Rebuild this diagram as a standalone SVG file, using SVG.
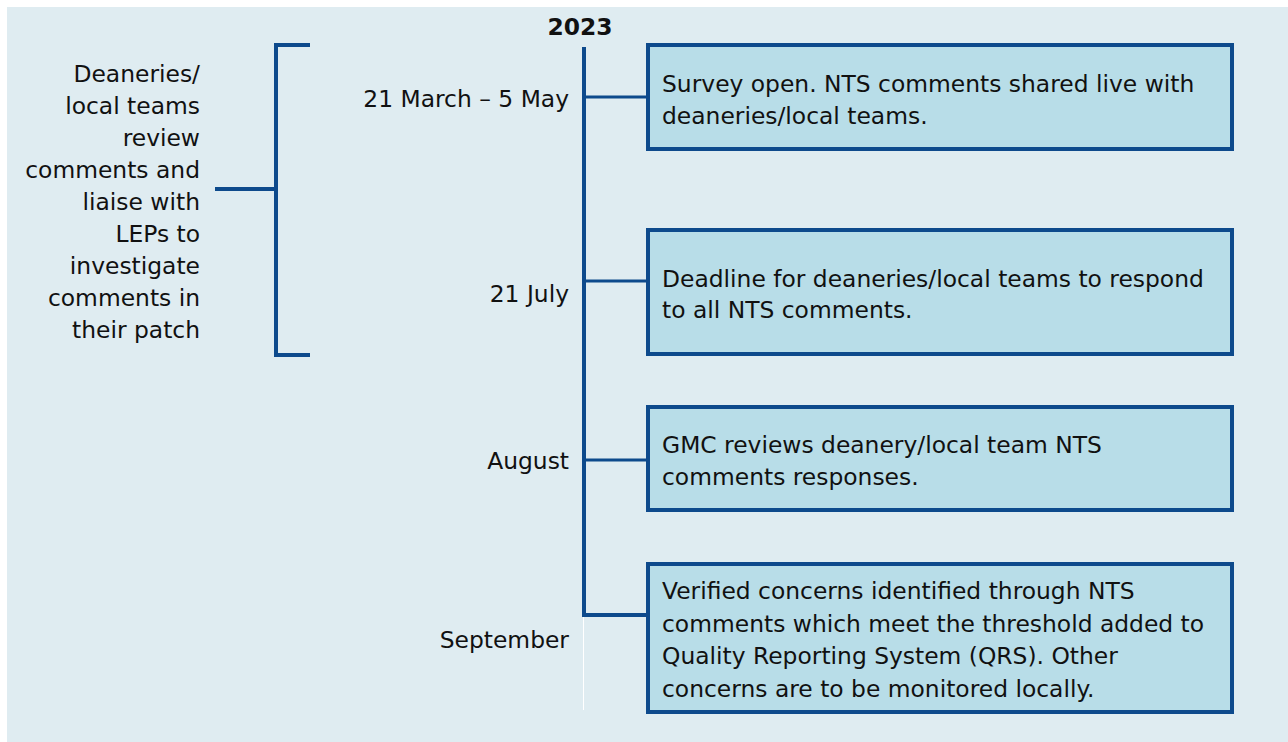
<svg xmlns="http://www.w3.org/2000/svg" width="1288" height="742" viewBox="0 0 1288 742">
<style>
.t{font-family:"DejaVu Sans",Verdana,sans-serif;font-size:23.4px;fill:#111}
.r{text-anchor:end}
.b{font-weight:bold;text-anchor:middle}
.ln{stroke:#0d4a8c;stroke-width:4;fill:none}
.ln3{stroke:#0d4a8c;stroke-width:3;fill:none}
.box{fill:#b8dde8;stroke:#0d4a8c;stroke-width:4}
</style>
<rect x="7" y="7" width="1281" height="735" fill="#dfecf1"/>
<g id="connectors">
<path class="ln" d="M310,45 H276 V355 H310"/>
<path class="ln" d="M215,189 H276"/>
<path class="ln" d="M584,47 V615 H646"/>
<path class="ln3" d="M584,97 H646"/>
<path class="ln3" d="M584,281 H646"/>
<path class="ln3" d="M584,460 H646"/>
<line x1="583.5" y1="617" x2="583.5" y2="710" stroke="#ffffff" stroke-width="1"/>
</g>
<g id="left-label">
<text class="t r" x="200" y="82">Deaneries/</text>
<text class="t r" x="200" y="114">local teams</text>
<text class="t r" x="200" y="146">review</text>
<text class="t r" x="200" y="178">comments and</text>
<text class="t r" x="200" y="210">liaise with</text>
<text class="t r" x="200" y="242">LEPs to</text>
<text class="t r" x="200" y="274">investigate</text>
<text class="t r" x="200" y="306">comments in</text>
<text class="t r" x="200" y="338">their patch</text>
</g>
<g id="year"><text class="t b" x="580" y="35">2023</text></g>
<g id="dates">
<text class="t r" x="569" y="107">21 March – 5 May</text>
<text class="t r" x="569" y="302">21 July</text>
<text class="t r" x="569" y="469">August</text>
<text class="t r" x="569" y="648">September</text>
</g>
<g id="box1">
<rect class="box" x="648" y="45" width="584" height="104"/>
<text class="t" x="662" y="92">Survey open. NTS comments shared live with</text>
<text class="t" x="662" y="123.5">deaneries/local teams.</text>
</g>
<g id="box2">
<rect class="box" x="648" y="230" width="584" height="124"/>
<text class="t" x="662" y="286.5">Deadline for deaneries/local teams to respond</text>
<text class="t" x="662" y="318">to all NTS comments.</text>
</g>
<g id="box3">
<rect class="box" x="648" y="407" width="584" height="103"/>
<text class="t" x="662" y="453">GMC reviews deanery/local team NTS</text>
<text class="t" x="662" y="485">comments responses.</text>
</g>
<g id="box4">
<rect class="box" x="648" y="564" width="584" height="148"/>
<text class="t" x="662" y="599">Verified concerns identified through NTS</text>
<text class="t" x="662" y="631.5">comments which meet the threshold added to</text>
<text class="t" x="662" y="664">Quality Reporting System (QRS). Other</text>
<text class="t" x="662" y="696.5">concerns are to be monitored locally.</text>
</g>
</svg>
